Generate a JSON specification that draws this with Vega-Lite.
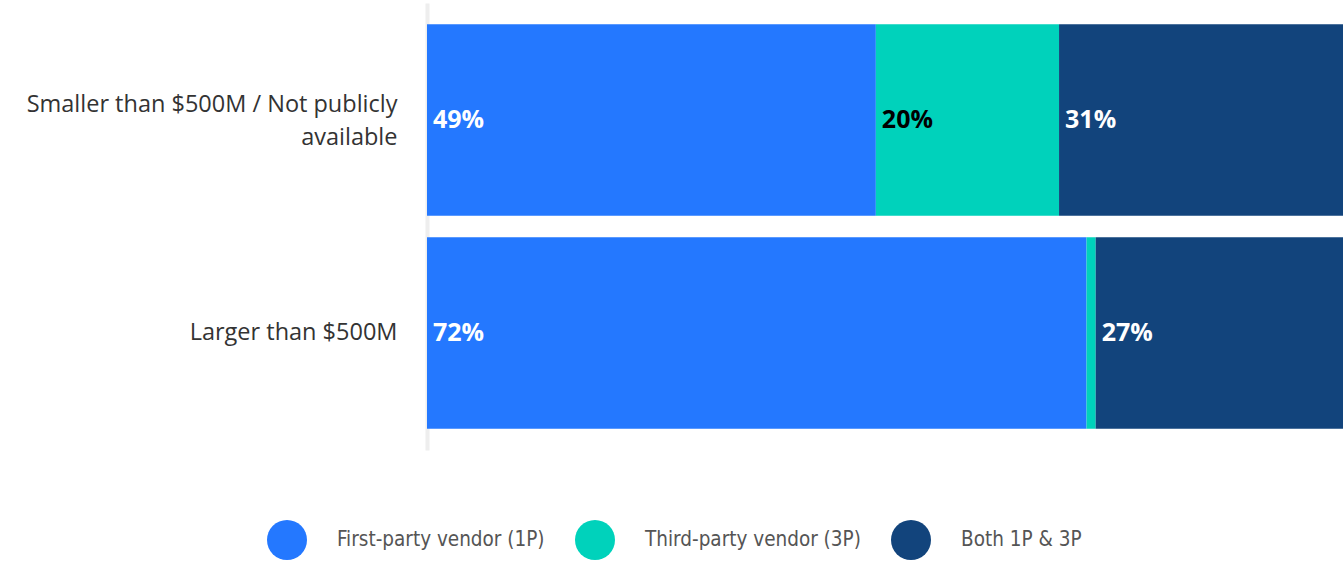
{
  "$schema": "https://vega.github.io/schema/vega-lite/v6.json",
  "autosize": "none",
  "width": 916,
  "height": 447,
  "padding": {"left": 427, "top": 3, "right": 0, "bottom": 111},
  "background": "white",
  "config": {"view": {"stroke": null}},
  "data": {
    "values": [
      {"group": "Smaller than $500M / Not publicly available", "vendor": "First-party vendor (1P)", "value": 49},
      {"group": "Smaller than $500M / Not publicly available", "vendor": "Third-party vendor (3P)", "value": 20},
      {"group": "Smaller than $500M / Not publicly available", "vendor": "Both 1P & 3P", "value": 31},
      {"group": "Larger than $500M", "vendor": "First-party vendor (1P)", "value": 72},
      {"group": "Larger than $500M", "vendor": "Third-party vendor (3P)", "value": 1},
      {"group": "Larger than $500M", "vendor": "Both 1P & 3P", "value": 27}
    ]
  },
  "transform": [
    {"stack": "value", "groupby": ["group"], "as": ["x0", "x1"]}
  ],
  "encoding": {
    "y": {
      "field": "group",
      "type": "nominal",
      "sort": null,
      "scale": {"paddingInner": 0.1, "paddingOuter": 0.1},
      "axis": {
        "title": null,
        "ticks": false,
        "domainColor": "#eeeeee",
        "domainWidth": 4,
        "labelFont": "Open Sans",
        "labelFontSize": 23.5,
        "labelColor": "#333333",
        "labelPadding": 30,
        "labelLimit": 600,
        "labelLineHeight": 33,
        "labelOffset": {"condition": {"test": "datum.value == 'Smaller than $500M / Not publicly available'", "value": -15}, "value": 0},
        "labelExpr": "datum.label == 'Smaller than $500M / Not publicly available' ? ['Smaller than $500M / Not publicly', 'available'] : datum.label"
      }
    }
  },
  "layer": [
    {
      "mark": {"type": "bar"},
      "encoding": {
        "x": {"field": "x0", "type": "quantitative", "scale": {"domain": [0, 100], "nice": false}, "axis": null},
        "x2": {"field": "x1"},
        "color": {
          "field": "vendor",
          "type": "nominal",
          "scale": {
            "domain": ["First-party vendor (1P)", "Third-party vendor (3P)", "Both 1P & 3P"],
            "range": ["#2478ff", "#00d2bb", "#12447c"]
          },
          "legend": {
            "title": null,
            "orient": "none",
            "direction": "horizontal",
            "legendX": -160,
            "legendY": 517,
            "symbolType": "circle",
            "symbolSize": 1600,
            "symbolStrokeWidth": 0,
            "labelFont": "DejaVu Sans Condensed",
            "labelFontSize": 20.5,
            "labelColor": "#555555",
            "labelOffset": 30,
            "columnPadding": 30,
            "labelLimit": 400
          }
        }
      }
    },
    {
      "transform": [
        {"filter": "datum.value >= 5"},
        {"calculate": "datum.value + '%'", "as": "label"}
      ],
      "mark": {"type": "text", "align": "left", "baseline": "middle", "dx": 6, "dy": 0, "font": "Open Sans", "fontSize": 25, "fontWeight": "bold"},
      "encoding": {
        "x": {"field": "x0", "type": "quantitative"},
        "text": {"field": "label", "type": "nominal"},
        "color": {
          "condition": {"test": "datum.vendor == 'Third-party vendor (3P)'", "value": "#000000"},
          "value": "#ffffff"
        }
      }
    }
  ]
}
